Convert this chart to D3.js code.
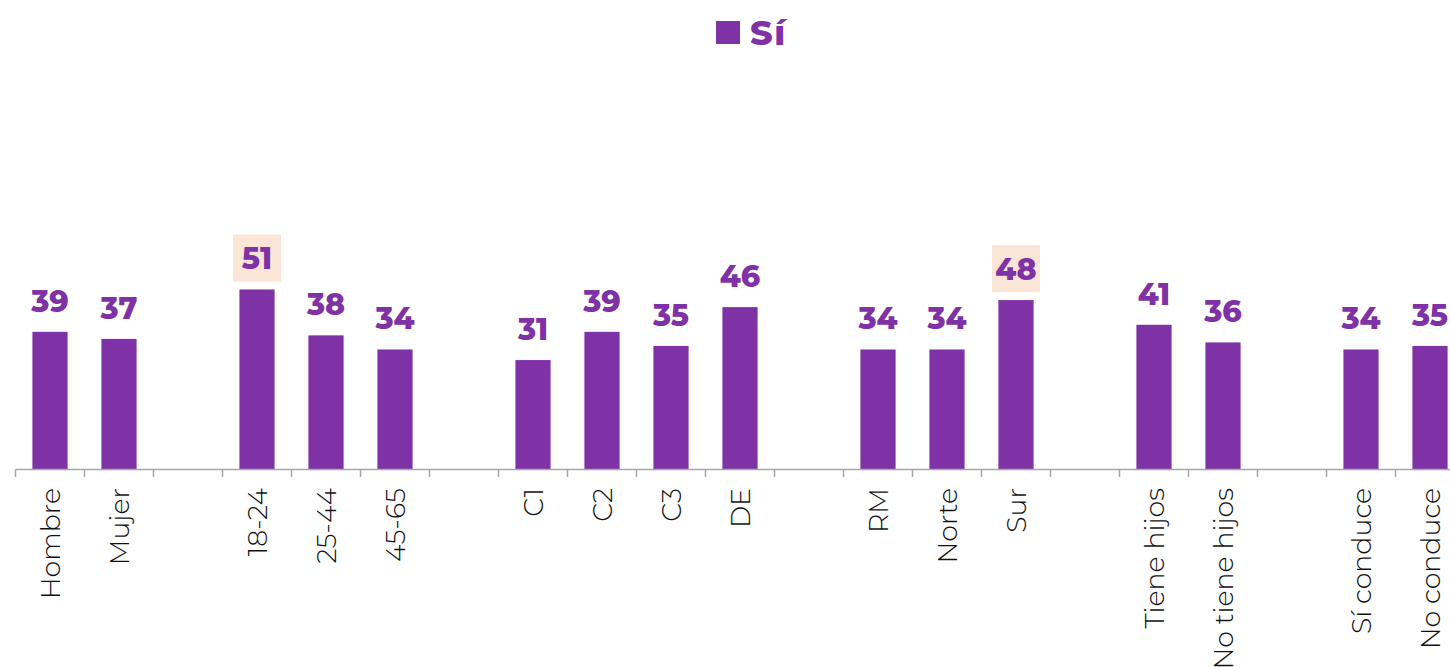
<!DOCTYPE html>
<html>
<head>
<meta charset="utf-8">
<script src="https://cdn.jsdelivr.net/npm/d3@7"></script>
<style>
  html, body { margin: 0; padding: 0; background: #fff; }
  svg { display: block; }
</style>
</head>
<body>
<svg id="chart" width="1450" height="667"></svg>
<script>
// Segments separated by empty slots ("" = spacer between groups)
const categories = ["Hombre", "Mujer", "", "18-24", "25-44", "45-65", "", "C1", "C2", "C3", "DE", "",
  "RM", "Norte", "Sur", "", "Tiene hijos", "No tiene hijos", "", "Sí conduce", "No conduce"];
const values = [39, 37, null, 51, 38, 34, null, 31, 39, 35, 46, null,
  34, 34, 48, null, 41, 36, null, 34, 35];
const highlighted = ["18-24", "Sur"];
const seriesName = "Sí";

const purple = "#7F31A6";
const peach = "#FBE5D6";
const labelFont = "Montserrat, 'Open Sans', 'DejaVu Sans', sans-serif";

const svg = d3.select("#chart");
const baseY = 469.5;

const x = d3.scaleBand()
  .domain(d3.range(categories.length))
  .range([15.5, 1464.5])
  .paddingInner(0.49)
  .paddingOuter(0.245);

const y = d3.scaleLinear()
  .domain([0, 100])
  .range([baseY, baseY - 353]);

const gap = x.step() - x.bandwidth();

// Legend
const legend = svg.append("g");
legend.append("rect")
  .attr("x", 716).attr("y", 21).attr("width", 24).attr("height", 23)
  .attr("fill", purple);
legend.append("text")
  .attr("x", 750).attr("y", 45)
  .attr("font-family", labelFont)
  .attr("font-weight", 800)
  .attr("font-size", 35)
  .attr("letter-spacing", 1.5)
  .attr("fill", purple)
  .text(seriesName);

const data = categories.map((c, i) => ({ i, c, v: values[i] })).filter(d => d.v != null);

// Bars
svg.append("g").selectAll("rect")
  .data(data)
  .join("rect")
  .attr("x", d => x(d.i))
  .attr("y", d => y(d.v))
  .attr("width", x.bandwidth())
  .attr("height", d => y(0) - y(d.v))
  .attr("fill", purple);

// Highlight boxes behind selected labels
svg.append("g").selectAll("rect")
  .data(data.filter(d => highlighted.includes(d.c)))
  .join("rect")
  .attr("x", d => x(d.i) + x.bandwidth() / 2 - 24)
  .attr("y", d => y(d.v) - 20 - 35)
  .attr("width", 48)
  .attr("height", 47)
  .attr("fill", peach);

// Value labels
svg.append("g").selectAll("text")
  .data(data)
  .join("text")
  .attr("x", d => x(d.i) + x.bandwidth() / 2)
  .attr("y", d => y(d.v) - 20)
  .attr("text-anchor", "middle")
  .attr("font-family", labelFont)
  .attr("font-weight", 800)
  .attr("font-size", 30)
  .attr("fill", purple)
  .text(d => d.v);

// Category axis
const axis = svg.append("g")
  .attr("transform", `translate(0,${baseY})`)
  .call(d3.axisBottom(x).tickSize(0).tickSizeOuter(0).tickFormat(() => ""));
axis.select(".domain")
  .attr("d", `M${x.range()[0]},0H${x.range()[1]}`)
  .attr("stroke", "#A6A6A6")
  .attr("stroke-width", 1.5);

// Slot boundary ticks
const boundary = i => (i < categories.length ? x(i) - gap / 2 : x(i - 1) + x.bandwidth() + gap / 2);
axis.append("g").selectAll("line")
  .data(d3.range(categories.length + 1))
  .join("line")
  .attr("x1", boundary)
  .attr("x2", boundary)
  .attr("y1", 0).attr("y2", 7.5)
  .attr("stroke", "#A6A6A6")
  .attr("stroke-width", 1.5);

// Rotated category labels
svg.append("g").selectAll("text")
  .data(categories.map((c, i) => ({ c, i })).filter(d => d.c !== ""))
  .join("text")
  .attr("transform", d => `translate(${x(d.i) + x.bandwidth() / 2 + 10},488) rotate(-90)`)
  .attr("text-anchor", "end")
  .attr("font-family", labelFont)
  .attr("font-weight", 300)
  .attr("font-size", 26.8)
  .attr("fill", "#111")
  .text(d => d.c);
</script>
</body>
</html>
